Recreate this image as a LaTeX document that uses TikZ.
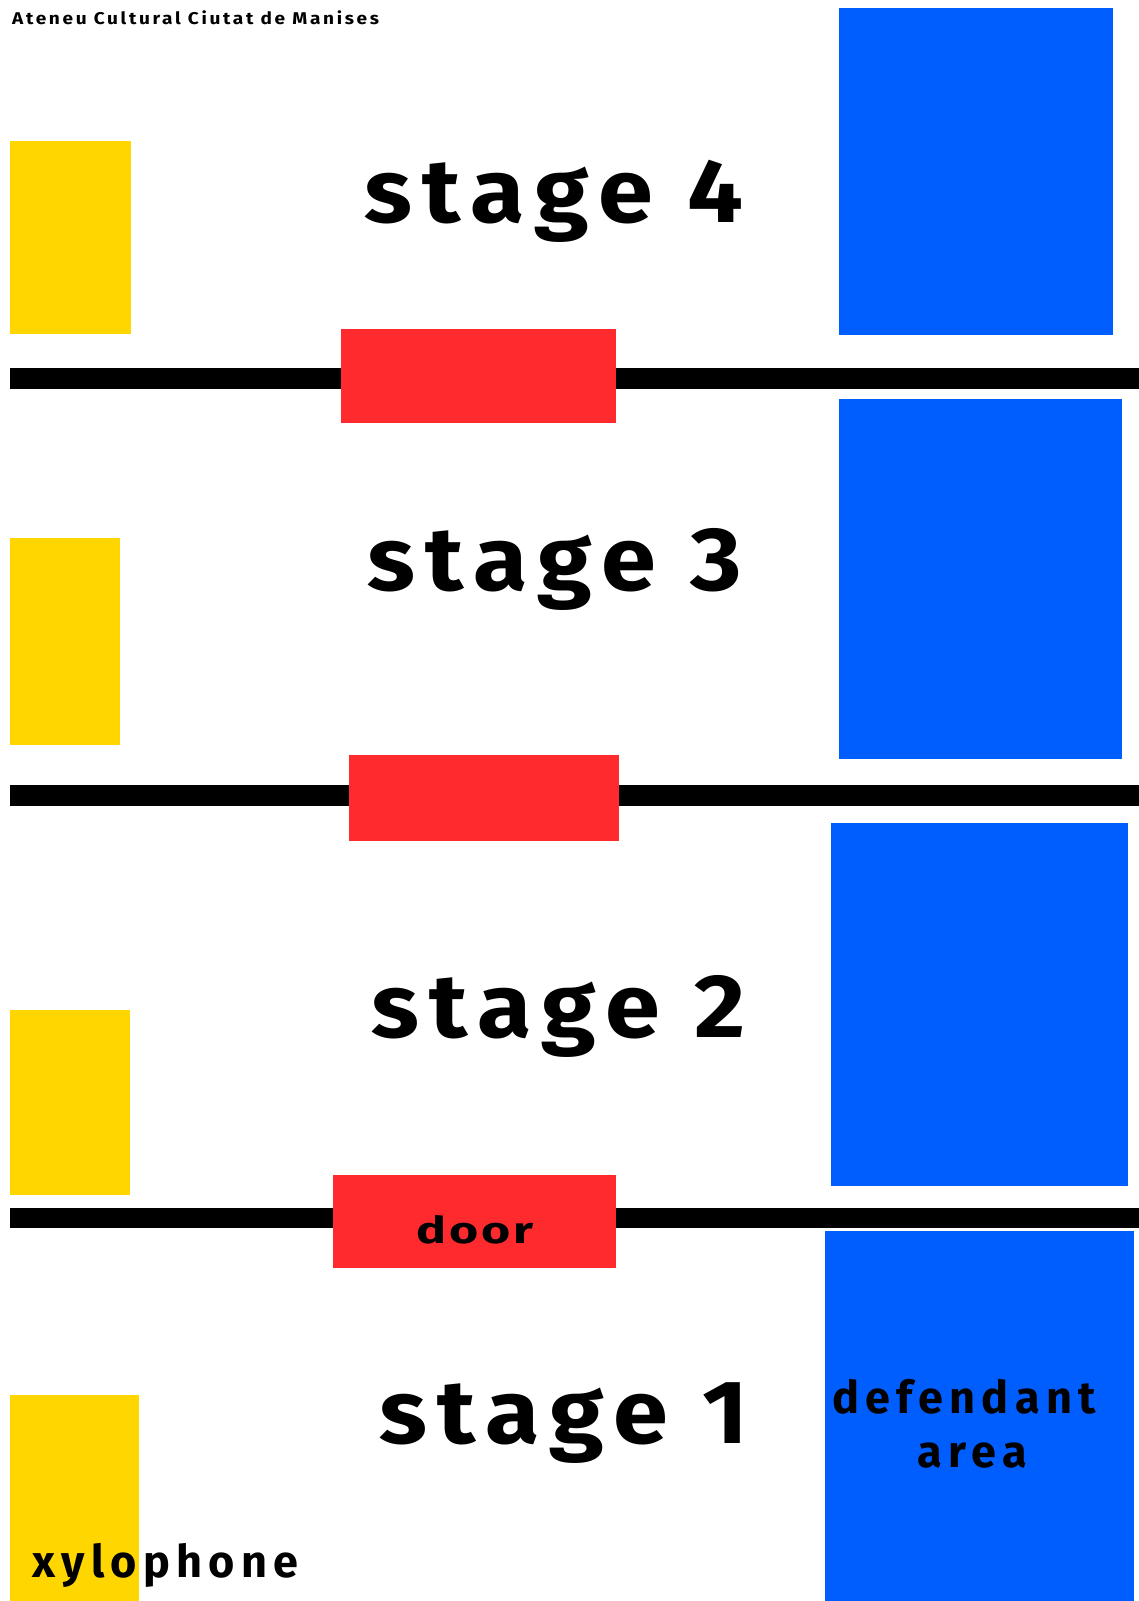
\documentclass[tikz,border=0pt]{standalone}
\usepackage{fontspec}
\usepackage{graphicx}
\setmainfont{Fira Sans}
\newfontfamily\stagefont[LetterSpace=11]{Fira Sans Bold}
\newfontfamily\titlefont[LetterSpace=14]{Fira Sans Bold}
\newfontfamily\labelfont[LetterSpace=14]{Fira Sans Bold}
\newfontfamily\doorfont[LetterSpace=6]{Fira Sans Bold}
\definecolor{xyl}{RGB}{255,214,0}
\definecolor{defb}{RGB}{0,94,255}
\definecolor{doorr}{RGB}{255,42,46}
\tikzset{
  ybox/.style={fill=xyl},
  bbox/.style={fill=defb},
  rbox/.style={fill=doorr},
  wall/.style={fill=black},
  stagelbl/.style={anchor=base west, inner sep=0pt, font=\stagefont\fontsize{90}{90}\selectfont},
  smalllbl/.style={inner sep=0pt, font=\labelfont\fontsize{45}{45}\selectfont},
}
\begin{document}
\begin{tikzpicture}[x=1pt,y=-1pt]
\useasboundingbox (0,0) rectangle (1139,1601);
\fill[white] (0,0) rectangle (1139,1601);
% walls
\fill[wall] (10,368) rectangle (1139,389);
\fill[wall] (10,785) rectangle (1139,806);
\fill[wall] (10,1208) rectangle (1139,1228);
% xylophones
\fill[ybox] (10,141) rectangle (131,334);
\fill[ybox] (10,538) rectangle (120,745);
\fill[ybox] (10,1010) rectangle (130,1195);
\fill[ybox] (10,1395) rectangle (139,1601);
% defendant areas
\fill[bbox] (839,8) rectangle (1113,335);
\fill[bbox] (839,399) rectangle (1122,759);
\fill[bbox] (831,823) rectangle (1128,1186);
\fill[bbox] (825,1231) rectangle (1134,1601);
% doors
\fill[rbox] (341,329) rectangle (616,423);
\fill[rbox] (349,755) rectangle (619,841);
\fill[rbox] (333,1175) rectangle (616,1268);
% texts
\node[anchor=base west, inner sep=0pt, font=\titlefont\fontsize{17}{17}\selectfont] (title) at (12,24) {\scalebox{1.12}[1]{Ateneu Cultural Ciutat de Manises}};
\node[stagelbl] (s4) at (364,222) {\scalebox{1.1}[1]{stage 4}};
\node[stagelbl] (s3) at (367,590) {\scalebox{1.1}[1]{stage 3}};
\node[stagelbl] (s2) at (371,1037) {\scalebox{1.1}[1]{stage 2}};
\node[stagelbl] (s1) at (379,1443) {\scalebox{1.1}[1]{stage 1}};
\node[anchor=base, inner sep=0pt, font=\doorfont\fontsize{37}{37}\selectfont] (door) at (475,1243) {\scalebox{1.35}[1]{door}};
\node[smalllbl, anchor=base] (def) at (964,1413) {defendant};
\node[smalllbl, anchor=base] (area) at (972,1467) {area};
\node[smalllbl, anchor=base west] (xyl) at (32,1577) {xylophone};
\end{tikzpicture}
\end{document}
